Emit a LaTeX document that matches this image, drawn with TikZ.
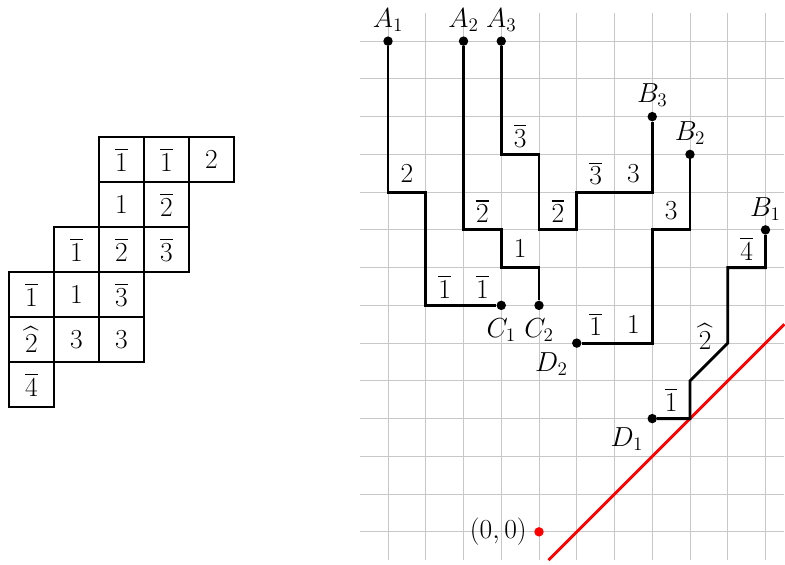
\documentclass[tikz,border=0pt]{standalone}
\usepackage{amsmath}
\usepackage{tikz}
\usetikzlibrary{positioning}
\definecolor{cGrid}{RGB}{200,200,200}
\definecolor{cLine}{RGB}{255,0,0}

\tikzset{
  cell/.style={draw, line width=2.1pt, minimum size=1.192cm, inner sep=0pt},
  dot/.style={circle, fill, inner sep=0pt, minimum size=0.25cm},
  lpath/.style={line width=2.2pt},
  wt/.style={inner sep=1pt}
}

\begin{document}
\begin{tikzpicture}[font=\fontsize{21.5}{26}\selectfont, x=1cm, y=1cm]
\useasboundingbox (-14.28,-0.874) rectangle (6.517,14.09);
% tableau, 1.192 per box
\foreach \r/\c/\v in {1/3/\overline{1}, 1/4/\overline{1}, 1/5/2,
    2/3/1, 2/4/\overline{2},
    3/2/\overline{1}, 3/3/\overline{2}, 3/4/\overline{3},
    4/1/\overline{1}, 4/2/1, 4/3/\overline{3},
    5/1/\widehat{2}, 5/2/3, 5/3/3,
    6/1/\overline{4}} {
  \node[cell] (t\r\c) at ({-14.04+(\c-0.5)*1.192},{10.46-(\r-0.5)*1.192}) {$\v$};
}
% lattice
\draw[cGrid, line width=0.7pt] (-4.75,-0.75) grid (6.5,13.75);
\coordinate (r0) at (0.25,-0.75);
\coordinate (r1) at (6.5,5.5);
\draw[cLine, lpath] (r0) -- (r1);
\node[dot, cLine, label={[label distance=2pt]left:$(0,0)$}] (O) at (0,0) {};

\node[dot, label=above:$A_1$] (A1) at (-4,13) {};
\node[dot, label=above:$A_2$] (A2) at (-2,13) {};
\node[dot, label=above:$A_3$] (A3) at (-1,13) {};
\node[dot, label=above:$B_1$] (B1) at (6,8) {};
\node[dot, label=above:$B_2$] (B2) at (4,10) {};
\node[dot, label=above:$B_3$] (B3) at (3,11) {};
\node[dot, label={[label distance=3pt]below:$C_1$}] (C1) at (-1,6) {};
\node[dot, label={[label distance=3pt]below:$C_2$}] (C2) at (0,6) {};
\node[dot, label={[label distance=1pt]below left:$D_1$}] (D1) at (3,3) {};
\node[dot, label={[label distance=1pt]below left:$D_2$}] (D2) at (1,5) {};

\draw[lpath] (A1) -- (-4,9) -- (-3,9) -- (-3,6) -- (C1);
\draw[lpath] (A2) -- (-2,8) -- (-1,8) -- (-1,7) -- (0,7) -- (C2);
\draw[lpath] (A3) -- (-1,10) -- (0,10) -- (0,8) -- (1,8) -- (1,9) -- (3,9) -- (B3);
\draw[lpath] (D2) -- (3,5) -- (3,8) -- (4,8) -- (B2);
\draw[lpath] (D1) -- (4,3) -- (4,4) -- (5,5) -- (5,7) -- (6,7) -- (B1);

% step weights
\foreach \x/\y/\v [count=\i] in {-3.5/9.5/2, -2.5/6.5/\overline{1}, -1.5/6.5/\overline{1},
    -1.5/8.5/\overline{2}, -0.5/7.5/1,
    -0.5/10.5/\overline{3}, 0.5/8.5/\overline{2}, 1.5/9.5/\overline{3}, 2.5/9.5/3,
    1.5/5.5/\overline{1}, 2.5/5.5/1, 3.5/8.5/3,
    3.5/3.5/\overline{1}, 4.4/5.18/\widehat{2}, 5.5/7.5/\overline{4}} {
  \node[wt] (w\i) at (\x,\y) {$\v$};
}
\end{tikzpicture}
\end{document}
